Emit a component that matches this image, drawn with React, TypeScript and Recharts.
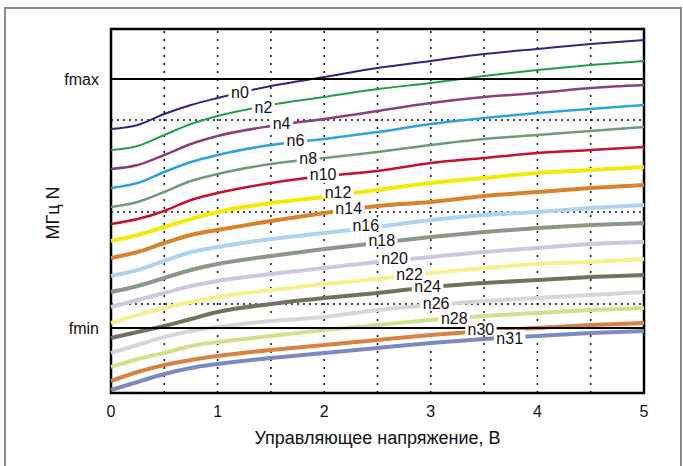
import React from 'react';
import { LineChart, Line, XAxis, YAxis, ReferenceLine, ReferenceArea, ReferenceDot } from 'recharts';

// control voltage, V
const voltage = [0, 0.25, 0.5, 0.75, 1, 1.5, 2, 2.5, 3, 3.5, 4, 4.5, 5];

// frequency per divider setting (arbitrary units)
const n0 = [264, 268, 279, 288, 295, 307, 316, 325, 332, 339, 344, 349, 353];
const n2 = [243, 247, 258, 269, 277, 288, 296, 304, 310, 317, 323, 328, 332];
const n4 = [224, 228, 238, 249, 257, 267, 274, 282, 290, 296, 300, 305, 308];
const n6 = [205, 210, 221, 231, 238, 248, 254, 261, 269, 275, 280, 284, 288];
const n8 = [186, 191, 201, 212, 219, 229, 235, 241, 248, 254, 258, 262, 266];
const n10 = [169, 174, 182, 193, 200, 210, 217, 222, 230, 235, 240, 243, 246];
const n12 = [152, 158, 166, 174, 181, 190, 196, 203, 210, 215, 220, 223, 226];
const n14 = [135, 141, 150, 158, 163, 172, 180, 187, 191, 197, 201, 205, 208];
const n16 = [117, 123, 132, 141, 146, 154, 160, 166, 173, 178, 181, 185, 188];
const n18 = [101, 107, 115, 123, 129, 137, 144, 150, 156, 161, 165, 168, 170];
const n20 = [86, 93, 100, 107, 112, 119, 125, 131, 136, 141, 145, 149, 151];
const n22 = [70, 78, 85, 91, 96, 103, 109, 114, 120, 125, 129, 131, 134];
const n24 = [55, 61, 67, 74, 81, 89, 95, 100, 106, 110, 113, 116, 118];
const n26 = [40, 48, 56, 62, 66, 72, 76, 83, 88, 92, 95, 98, 101];
const n28 = [26, 34, 40, 47, 51, 57, 63, 68, 73, 77, 80, 83, 85];
const n30 = [12, 21, 28, 33, 37, 43, 48, 53, 58, 62, 65, 68, 70];
const n31 = [3, 11, 19, 25, 29, 35, 40, 45, 50, 54, 57, 60, 62];

const seriesNames = ['n0', 'n2', 'n4', 'n6', 'n8', 'n10', 'n12', 'n14', 'n16', 'n18', 'n20', 'n22', 'n24', 'n26', 'n28', 'n30', 'n31'];
const seriesValues = [n0, n2, n4, n6, n8, n10, n12, n14, n16, n18, n20, n22, n24, n26, n28, n30, n31];

// where each curve name sits (V, units)
const labelX = [1.21, 1.43, 1.6, 1.73, 1.85, 1.99, 2.13, 2.23, 2.39, 2.54, 2.66, 2.8, 2.97, 3.05, 3.22, 3.47, 3.74];
const labelY = [302, 287, 271, 254, 236, 220, 202, 186, 169, 154, 136, 120, 108, 91, 76, 65, 56];

const xTicks = [0, 1, 2, 3, 4, 5];
const gridX = [0.5, 1, 1.5, 2, 2.5, 3, 3.5, 4, 4.5];
const gridY = [89, 181, 273];
const yTicks = [65, 314];
const yTickLabels = ['fmin', 'fmax'];

const colors = ['#37207f', '#1e9e48', '#8c3f7c', '#2ba3e3', '#6f9c78', '#c80f30', '#f3ea0a', '#d9822c', '#acd3f1', '#8b9787', '#cfc7e1', '#f6f08f', '#71715f', '#d6d6d6', '#d0e08c', '#d9813f', '#7b88c1'];
const widths = [2, 2, 2.5, 2.5, 2.5, 2.5, 4, 4, 4, 4, 4, 4, 4, 4, 4, 4, 4];

const data = voltage.map((v, i) => {
  const row: Record<string, number> = { v };
  seriesNames.forEach((name, k) => { row[name] = seriesValues[k][i]; });
  return row;
});

const FONT = '"Liberation Sans", Arial, sans-serif';

const NameTag = (text: string) => (props: any) => {
  const { cx, cy } = props;
  const w = text.length * 8.5 + 6;
  return (
    <g>
      <rect x={cx - w / 2} y={cy - 7} width={w} height={14} fill="#fff" />
      <text x={cx} y={cy + 1} textAnchor="middle" dominantBaseline="central" fontSize={16} fontFamily={FONT} fill="#111">
        {text}
      </text>
    </g>
  );
};

// draw lower names first so the upper ones stay on top where they touch
const tagOrder = seriesNames.map((_, k) => seriesNames.length - 1 - k);

export default function App() {
  return (
    <div style={{ position: 'absolute', left: 0, top: 0, width: 683, height: 466, background: '#fff', overflow: 'hidden', fontFamily: FONT }}>
      <div style={{ position: 'absolute', left: 4, top: 7, width: 674, height: 480, border: '2px solid #8a8a8a' }} />
      <div style={{ position: 'absolute', left: 0, top: 0 }}>
        <LineChart width={683} height={466} data={data} margin={{ top: 29, right: 39, bottom: 43, left: 11 }}>
          <XAxis
            dataKey="v"
            type="number"
            domain={[0, 5]}
            ticks={xTicks}
            tickLine={false}
            axisLine={false}
            height={30}
            tickMargin={7}
            tick={{ fontSize: 16, fill: '#111', fontFamily: FONT }}
          />
          <YAxis
            type="number"
            domain={[0, 364]}
            ticks={yTicks}
            tickFormatter={(v: number) => yTickLabels[yTicks.indexOf(v)]}
            tickLine={false}
            axisLine={false}
            width={100}
            tickMargin={6}
            tick={{ fontSize: 16, fill: '#111', fontFamily: FONT }}
          />
          {gridX.map((x) => (
            <ReferenceLine key={'gx' + x} x={x} stroke="#111" strokeWidth={1.5} strokeDasharray="2 6" />
          ))}
          {gridY.map((y) => (
            <ReferenceLine key={'gy' + y} y={y} stroke="#111" strokeWidth={1.5} strokeDasharray="2 4" />
          ))}
          {seriesNames.map((name, k) => (
            <Line
              key={name}
              dataKey={name}
              type="monotone"
              stroke={colors[k]}
              strokeWidth={widths[k]}
              dot={false}
              activeDot={false}
              isAnimationActive={false}
            />
          ))}
          {yTicks.map((y) => (
            <ReferenceLine key={'f' + y} y={y} stroke="#000" strokeWidth={2} />
          ))}
          <ReferenceArea x1={0} x2={5} y1={0} y2={364} fill="none" stroke="#000" strokeWidth={2.5} />
          {tagOrder.map((k) => (
            <ReferenceDot key={'t' + seriesNames[k]} x={labelX[k]} y={labelY[k]} r={1} shape={NameTag(seriesNames[k])} zIndex={1000} />
          ))}
        </LineChart>
      </div>
      <div style={{ position: 'absolute', left: 0, width: 755, top: 428, textAlign: 'center', fontSize: 18, color: '#111' }}>
        Управляющее напряжение, В
      </div>
      <div style={{ position: 'absolute', left: 53, top: 213, transform: 'translate(-50%, -50%) rotate(-90deg)', fontSize: 18, color: '#111', whiteSpace: 'nowrap' }}>
        МГц N
      </div>
    </div>
  );
}
